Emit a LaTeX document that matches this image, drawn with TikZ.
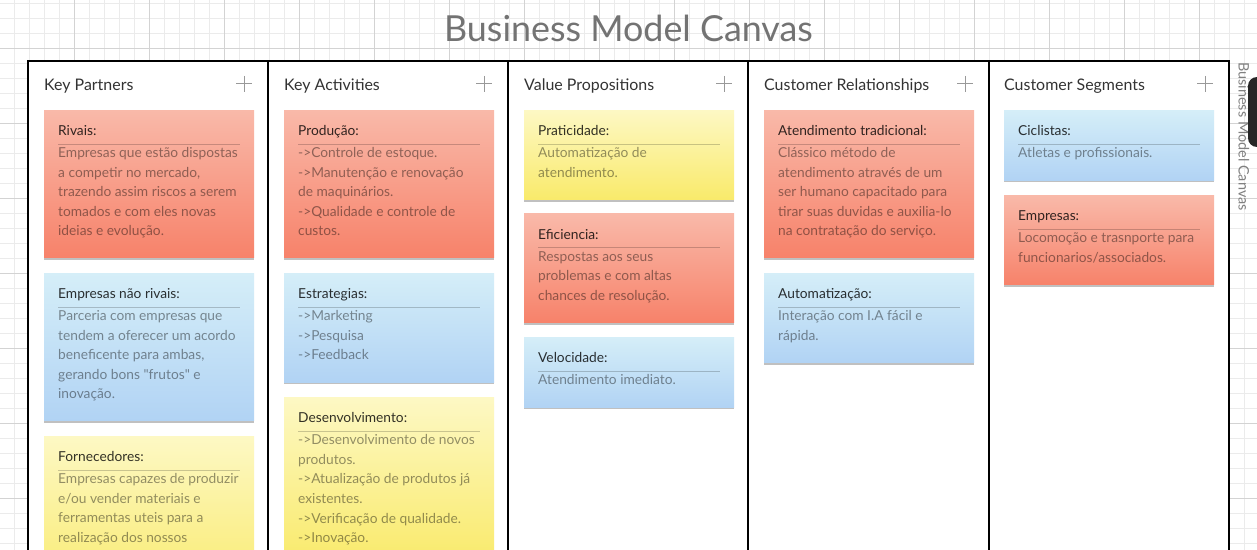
\documentclass[tikz,border=0pt]{standalone}
\usepackage{fontspec}
\setmainfont{Lato}[Ligatures=TeXOff]
\usetikzlibrary{positioning,shadows}
\definecolor{redtop}{HTML}{F9B9A9}
\definecolor{redbot}{HTML}{F7826A}
\definecolor{bluetop}{HTML}{D5EEF8}
\definecolor{bluebot}{HTML}{B1D3F4}
\definecolor{yellowtop}{HTML}{FDF8C4}
\definecolor{yellowbot}{HTML}{F9EA6A}
\definecolor{gridminor}{HTML}{EBEBEB}
\definecolor{gridmajor}{HTML}{D3D3D3}
\newcommand{\bmcnote}[6]{%
  \node[note=#3, minimum height={50.6bp+19.4bp*#4}, #2] (#1) {};
  \node[notetitle] (#1-t) at ([shift={(14bp,-25.5bp)}]#1.north west) {#5};
  \draw[noterule] ([shift={(14bp,-34bp)}]#1.north west) -- ([shift={(-14bp,-34bp)}]#1.north east);
  \foreach \ln [count=\k] in {#6}
    \node[notebody] (#1-\k) at ([shift={(14bp,{-47.5bp-19.6bp*(\k-1)})}]#1.north west) {\ln};
}
\begin{document}
\begin{tikzpicture}[x=1bp,y=-1bp,
    frame/.style={line width=1.4bp,black},
    note/.style={anchor=north west,inner sep=0pt,minimum width=210bp,top color=#1top,bottom color=#1bot,
      drop shadow={shadow xshift=0bp,shadow yshift=-2bp,opacity=.35,fill=black!70}},
    notetitle/.style={anchor=base west,inner sep=0pt,font=\fontsize{13.8}{16}\selectfont,text=black,text opacity=.8},
    notebody/.style={anchor=base west,inner sep=0pt,font=\fontsize{13.8}{16}\selectfont,text=black,text opacity=.42},
    noterule/.style={draw=black,opacity=.2,line width=.8bp},
    colhead/.style={anchor=base west,inner sep=0pt,font=\fontsize{16}{18}\selectfont,text=black!80},
    plusicon/.style={draw=black!40,line width=1bp}]
  \useasboundingbox (0,0) rectangle (1257,550);
  \clip (0,0) rectangle (1257,550);
  \fill[white] (0,0) rectangle (1257,550);
  \foreach \gx in {0,...,84} \draw[gridminor,line width=.8bp] ({15*\gx-0.7},0) -- ({15*\gx-0.7},550);
  \foreach \gy in {0,...,37} \draw[gridminor,line width=.8bp] (0,{15*\gy+3}) -- (1257,{15*\gy+3});
  \foreach \gx in {1,...,17} \draw[gridmajor,line width=.8bp] ({75*\gx-0.7},0) -- ({75*\gx-0.7},550);
  \foreach \gy in {1,...,7} \draw[gridmajor,line width=.8bp] (0,{75*\gy-27}) -- (1257,{75*\gy-27});
  \node[anchor=base,inner sep=0pt,font=\fontsize{36}{40}\selectfont,text=black!55] (title) at (628.5,42) {Business Model Canvas};
  \node[anchor=base west,inner sep=0pt,rotate=-90,font=\fontsize{14.5}{16}\selectfont,text=black!50] (side) at (1238.5,62) {Business Model Canvas};
  \fill[black!85,rounded corners=9bp] (1248,77) rectangle (1280,147);
  \fill[white] (28,61) rectangle (1229,570);
  \draw[frame] (28,61) rectangle (1229,570);
  \foreach \cx in {268,508,748,989} \draw[frame] (\cx,61) -- (\cx,570);
  \node[colhead] (kp) at (44,91) {Key Partners};
  \node[colhead] (ka) at (284,91) {Key Activities};
  \node[colhead] (vp) at (524,91) {Value Propositions};
  \node[colhead] (cr) at (764,91) {Customer Relationships};
  \node[colhead] (cs) at (1004,91) {Customer Segments};
  \foreach \px in {244,484,724,965,1205} \draw[plusicon] (\px-8,84) -- (\px+8,84) (\px,76) -- (\px,92);
  \bmcnote{kp1}{at={(44,110)}}{red}{5}{Rivais:}{Empresas que estão dispostas,{a competir no mercado,},trazendo assim riscos a serem,tomados e com eles novas,ideias e evolução.}
  \bmcnote{kp2}{below=15bp of kp1}{blue}{5}{Empresas não rivais:}{Parceria com empresas que,tendem a oferecer um acordo,{beneficente para ambas,},gerando bons "frutos" e,inovação.}
  \bmcnote{kp3}{below=15bp of kp2}{yellow}{6}{Fornecedores:}{Empresas capazes de produzir,e/ou vender materiais e,ferramentas uteis para a,realização dos nossos}
  \bmcnote{ka1}{at={(284,110)}}{red}{5}{Produção:}{->Controle de estoque.,->Manutenção e renovação,de maquinários.,->Qualidade e controle de,custos.}
  \bmcnote{ka2}{below=15bp of ka1}{blue}{3}{Estrategias:}{->Marketing,->Pesquisa,->Feedback}
  \bmcnote{ka3}{below=15bp of ka2}{yellow}{6}{Desenvolvimento:}{->Desenvolvimento de novos,produtos.,->Atualização de produtos já,existentes.,->Verificação de qualidade.,->Inovação.}
  \bmcnote{vp1}{at={(524,110)}}{yellow}{2}{Praticidade:}{Automatização de,atendimento.}
  \bmcnote{vp2}{below=14bp of vp1}{red}{3}{Eficiencia:}{Respostas aos seus,problemas e com altas,chances de resolução.}
  \bmcnote{vp3}{below=14bp of vp2}{blue}{1}{Velocidade:}{Atendimento imediato.}
  \bmcnote{cr1}{at={(764,110)}}{red}{5}{Atendimento tradicional:}{Clássico método de,atendimento através de um,ser humano capacitado para,tirar suas duvidas e auxilia-lo,na contratação do serviço.}
  \bmcnote{cr2}{below=15bp of cr1}{blue}{2}{Automatização:}{Interação com I.A fácil e,rápida.}
  \bmcnote{cs1}{at={(1004,110)}}{blue}{1}{Ciclistas:}{Atletas e profissionais.}
  \bmcnote{cs2}{below=15bp of cs1}{red}{2}{Empresas:}{Locomoção e trasnporte para,funcionarios/associados.}
\end{tikzpicture}
\end{document}
